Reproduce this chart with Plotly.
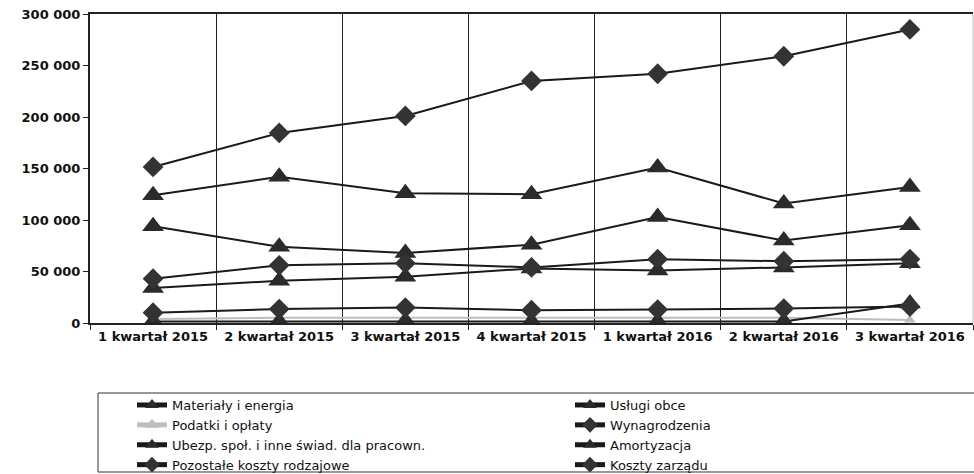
import plotly.graph_objects as go

categories = ["1 kwartał 2015", "2 kwartał 2015", "3 kwartał 2015", "4 kwartał 2015",
              "1 kwartał 2016", "2 kwartał 2016", "3 kwartał 2016"]

materialy = [94000, 74000, 68000, 76000, 103000, 80000, 95000]
uslugi = [124000, 142000, 126000, 125000, 151000, 116000, 132000]
podatki = [4000, 5000, 5000, 5000, 5000, 5000, 3000]
wynagrodzenia = [151500, 184500, 201000, 235000, 242000, 259000, 285000]
ubezp = [34000, 41000, 45000, 53000, 51000, 54000, 58000]
amortyzacja = [1500, 1500, 2000, 1500, 1500, 1500, 19000]
pozostale = [43000, 56000, 58000, 54000, 62000, 60000, 62000]
zarzad = [10000, 13500, 15000, 12500, 13000, 14000, 16000]

series = [
    ("Materiały i energia", materialy, "triangle-up", "#2b2b2b", 19),
    ("Usługi obce", uslugi, "triangle-up", "#2b2b2b", 19),
    ("Podatki i opłaty", podatki, "triangle-up", "#bdbdbd", 10),
    ("Wynagrodzenia", wynagrodzenia, "diamond", "#333333", 16),
    ("Ubezp. społ. i inne świad. dla pracown.", ubezp, "triangle-up", "#2b2b2b", 19),
    ("Amortyzacja", amortyzacja, "triangle-up", "#2b2b2b", 19),
    ("Pozostałe koszty rodzajowe", pozostale, "diamond", "#333333", 16),
    ("Koszty zarządu", zarzad, "diamond", "#333333", 16),
]

fig = go.Figure()
for name, vals, sym, col, size in series:
    linecol = "#1a1a1a" if col != "#bdbdbd" else "#bdbdbd"
    fig.add_trace(go.Scatter(
        x=categories, y=vals, name=name, mode="lines+markers",
        line=dict(color=linecol, width=2),
        marker=dict(symbol=sym, size=size, color=col),
    ))

PLOT_L, PLOT_T, PLOT_B, PLOT_W = 90, 14, 323, 883


def px_x(p):
    return (p - PLOT_L) / PLOT_W


def px_y(p):
    return (PLOT_B - p) / (PLOT_B - PLOT_T)


fig.update_layout(
    width=974, height=474,
    margin=dict(l=90, r=1, t=14, b=151, autoexpand=False),
    paper_bgcolor="white", plot_bgcolor="white",
    separators=", ",
    showlegend=True,
    legend=dict(
        orientation="h", x=px_x(132), xanchor="left", y=px_y(390), yanchor="top",
        entrywidth=393, entrywidthmode="pixels",
        borderwidth=0, bgcolor="rgba(0,0,0,0)",
        font=dict(family="DejaVu Sans", size=13, color="#111111"),
        itemsizing="constant", tracegroupgap=0,
    ),
    font=dict(family="DejaVu Sans", color="#111111"),
)
fig.update_xaxes(
    type="category", range=[-0.5, 6.5], tickson="boundaries",
    showgrid=True, gridcolor="#222222", gridwidth=1,
    showline=True, linecolor="#222222", linewidth=2, mirror=True,
    ticks="outside", ticklen=5, tickcolor="#222222",
    tickfont=dict(family="DejaVu Sans", size=13, color="#111111", weight="bold"),
)
fig.update_yaxes(
    range=[0, 300000], dtick=50000, tickformat=",d",
    showgrid=False, zeroline=False,
    showline=True, linecolor="#222222", linewidth=2,
    ticks="outside", ticklen=5, tickcolor="#222222",
    tickfont=dict(family="DejaVu Sans", size=13, color="#111111", weight="bold"),
)
fig.add_shape(type="line", xref="paper", yref="paper", x0=1, x1=1, y0=0, y1=1,
              line=dict(color="#bbbbbb", width=1))
# legend frame
fig.add_shape(type="rect", xref="paper", yref="paper",
              x0=px_x(98), x1=px_x(990), y0=px_y(393), y1=px_y(472),
              line=dict(color="#333333", width=1), layer="below")

fig.write_html("out.html")
